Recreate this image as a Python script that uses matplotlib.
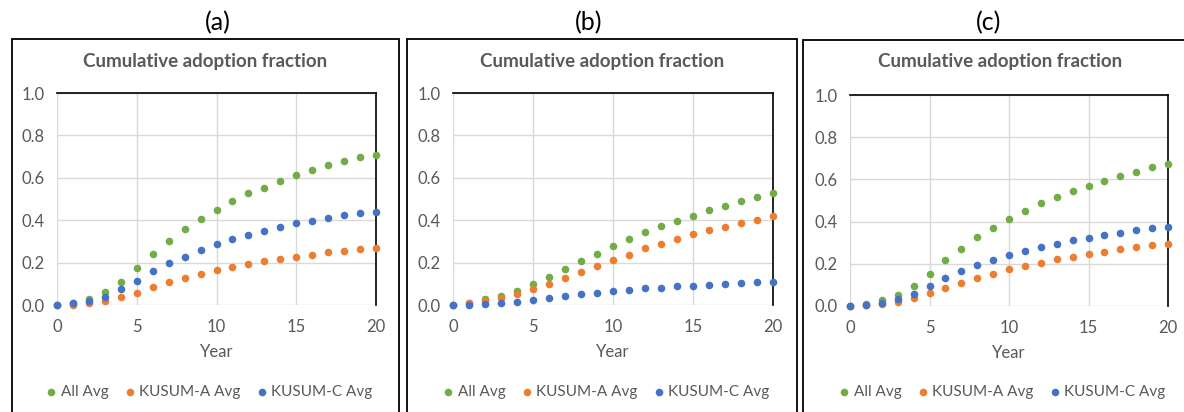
import numpy as np
import matplotlib.pyplot as plt
from matplotlib.patches import Rectangle

plt.rcParams['font.family'] = ['Lato', 'DejaVu Sans']

# Data
years = list(range(21))

all_a = [0, 0.011, 0.030, 0.060, 0.107, 0.175, 0.241, 0.304, 0.357, 0.405, 0.449,
         0.491, 0.526, 0.554, 0.584, 0.613, 0.638, 0.661, 0.680, 0.696, 0.709]
kusum_a_a = [0, 0.002, 0.008, 0.019, 0.038, 0.058, 0.085, 0.107, 0.126, 0.145, 0.165,
             0.181, 0.194, 0.206, 0.216, 0.228, 0.238, 0.249, 0.255, 0.263, 0.269]
kusum_c_a = [0, 0.008, 0.019, 0.039, 0.074, 0.115, 0.159, 0.198, 0.228, 0.258, 0.287,
             0.312, 0.331, 0.350, 0.370, 0.386, 0.398, 0.411, 0.424, 0.433, 0.439]

all_b = [0, 0.011, 0.027, 0.044, 0.068, 0.099, 0.132, 0.168, 0.207, 0.242, 0.276,
         0.311, 0.344, 0.372, 0.397, 0.422, 0.446, 0.468, 0.490, 0.509, 0.527]
kusum_a_b = [0, 0.008, 0.019, 0.035, 0.053, 0.075, 0.097, 0.126, 0.155, 0.185, 0.212,
             0.237, 0.267, 0.290, 0.311, 0.333, 0.353, 0.369, 0.388, 0.403, 0.421]
kusum_c_b = [0, 0.002, 0.005, 0.008, 0.016, 0.024, 0.035, 0.044, 0.050, 0.058, 0.066,
             0.072, 0.078, 0.082, 0.088, 0.091, 0.094, 0.100, 0.104, 0.107, 0.110]

all_c = [0, 0.011, 0.027, 0.051, 0.096, 0.153, 0.218, 0.272, 0.325, 0.371, 0.412,
         0.452, 0.487, 0.517, 0.543, 0.570, 0.592, 0.615, 0.637, 0.657, 0.671]
kusum_a_c = [0, 0.003, 0.008, 0.021, 0.039, 0.060, 0.087, 0.109, 0.131, 0.153, 0.174,
             0.190, 0.205, 0.221, 0.234, 0.246, 0.258, 0.270, 0.280, 0.288, 0.295]
kusum_c_c = [0, 0.005, 0.016, 0.032, 0.058, 0.095, 0.131, 0.166, 0.193, 0.216, 0.240,
             0.261, 0.280, 0.295, 0.311, 0.324, 0.336, 0.348, 0.360, 0.368, 0.374]

panel_labels = ['(a)', '(b)', '(c)']
series_names = ['All Avg', 'KUSUM-A Avg', 'KUSUM-C Avg']
colors = ['#70AD47', '#ED7D31', '#4472C4']
panels = [(all_a, kusum_a_a, kusum_c_a),
          (all_b, kusum_a_b, kusum_c_b),
          (all_c, kusum_a_c, kusum_c_c)]

W, H = 1184, 412
fig = plt.figure(figsize=(W / 100, H / 100), dpi=100)

# layout in pixels (left, right, top, bottom of plot area), box edges, text centres
axes_px = [(57, 376, 93, 305), (453, 773, 93, 305), (850, 1168, 95, 306)]
box_px = [(12, 399, 39), (407, 797, 39), (803, 1200, 40)]
label_x = [218, 589, 989]
title_x = [205, 602, 1000]
legend_x = [208, 605, 1001]
text_gray = '#595959'

for i, (vals, (l, r, t, b)) in enumerate(zip(panels, axes_px)):
    bl, br, bt = box_px[i]
    fig.patches.append(Rectangle((bl / W, -0.05), (br - bl) / W, (H - bt) / H + 0.05,
                                 transform=fig.transFigure, fill=False,
                                 edgecolor='black', linewidth=1.3, zorder=0))
    fig.text(label_x[i] / W, 1 - 23 / H, panel_labels[i], ha='center', va='center',
             fontsize=18, color='black')
    fig.text(title_x[i] / W, 1 - 61 / H, 'Cumulative adoption fraction', ha='center',
             va='center', fontsize=13.5, fontweight='bold', color=text_gray)

    ax = fig.add_axes([l / W, (H - b) / H, (r - l) / W, (b - t) / H])
    handles = []
    for y, name, c in zip(vals, series_names, colors):
        h = ax.scatter(years, y, s=30, color=c, label=name, zorder=3, clip_on=False,
                       linewidths=0)
        handles.append(h)

    ax.set_xlim(0, 20)
    ax.set_ylim(0, 1.0)
    ax.set_xticks([0, 5, 10, 15, 20])
    ax.set_yticks(np.arange(0, 1.01, 0.2))
    ax.set_yticklabels([f'{v:.1f}' for v in np.arange(0, 1.01, 0.2)])
    ax.grid(True, color='#D9D9D9', linewidth=1)
    ax.set_axisbelow(True)
    for s in ['left', 'bottom']:
        ax.spines[s].set_visible(False)
    for s in ['top', 'right']:
        ax.spines[s].set_color('black')
        ax.spines[s].set_linewidth(1.2)
    ax.tick_params(length=0, labelsize=12, labelcolor=text_gray)
    ax.tick_params(axis='x', pad=10)
    ax.tick_params(axis='y', pad=9)
    ax.set_xlabel('Year', fontsize=12, color=text_gray)
    ax.xaxis.set_label_coords(0.5, -0.185)

    fig.legend(handles=handles, labels=series_names, loc='center',
               bbox_to_anchor=(legend_x[i] / W, 1 - 392 / H), ncol=3, frameon=False,
               fontsize=11, labelcolor=text_gray, handletextpad=0.1,
               columnspacing=0.9, markerscale=1.0, handlelength=1.0)

fig.savefig('out.png', dpi=100)
